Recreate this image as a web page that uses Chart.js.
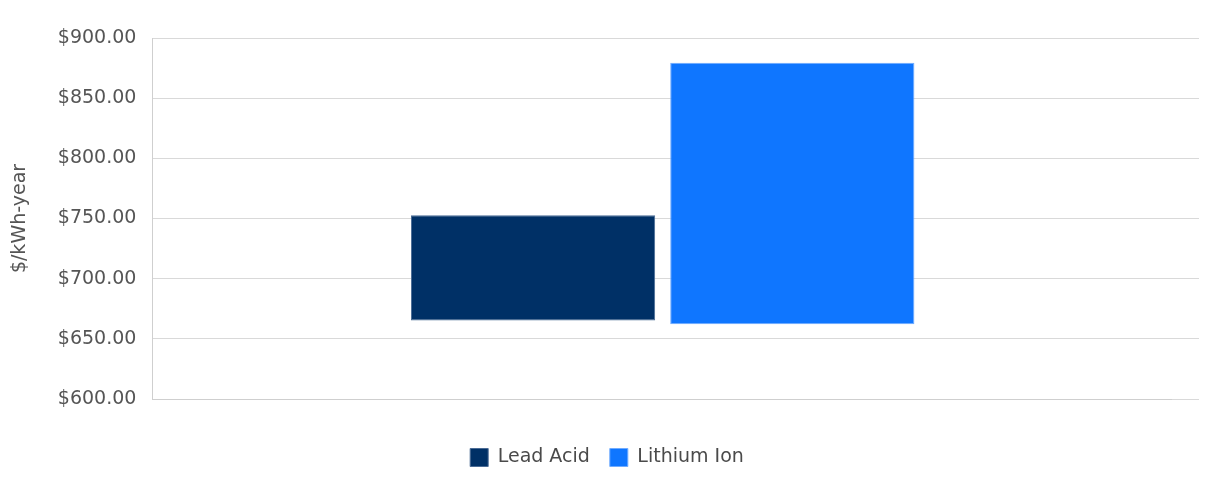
<!DOCTYPE html>
<html>
<head>
<meta charset="utf-8">
<script src="https://cdn.jsdelivr.net/npm/chart.js@4/dist/chart.umd.min.js"></script>
<style>
  html, body { margin: 0; padding: 0; background: #fff; }
  #wrap { width: 1207px; height: 500px; }
</style>
</head>
<body>
<div id="wrap"><canvas id="c" width="1207" height="500"></canvas></div>
<script>
const categories = [''];
const seriesNames = ['Lead Acid', 'Lithium Ion'];
const leadAcidRange = [[665.2, 752.7]];
const lithiumIonRange = [[662.2, 879.5]];
const yTickMin = 600;
const yTickMax = 900;
const yTickStep = 50;
const yAxisTitle = '$/kWh-year';

const FONT = 'DejaVu Sans';
const GRID_COLOR = '#d9d9d9';
const GRID_EXTEND = 26;
const LEGEND_SHIFT = 16;

// gridlines in the reference run a little past the plotting region on the right
const extendGrid = {
  id: 'extendGrid',
  afterLayout(chart) {
    if (chart.legend) {
      chart.legend.left += LEGEND_SHIFT;
      chart.legend.right += LEGEND_SHIFT;
    }
  },
  beforeDatasetsDraw(chart) {
    const { ctx, chartArea, scales } = chart;
    const y = scales.y;
    ctx.save();
    ctx.strokeStyle = GRID_COLOR;
    ctx.lineWidth = 1;
    y.ticks.forEach(t => {
      const py = Math.round(y.getPixelForValue(t.value) - 0.5) + 0.5;
      ctx.beginPath();
      ctx.moveTo(chartArea.right - 1, py);
      ctx.lineTo(chartArea.right + GRID_EXTEND, py);
      ctx.stroke();
    });
    ctx.restore();
  }
};

new Chart(document.getElementById('c'), {
  type: 'bar',
  data: {
    labels: categories,
    datasets: [
      {
        label: seriesNames[0],
        data: leadAcidRange,
        backgroundColor: '#003066',
        borderColor: '#4a6b95',
        borderWidth: 1,
        borderSkipped: false,
        categoryPercentage: 0.508,
        barPercentage: 0.942
      },
      {
        label: seriesNames[1],
        data: lithiumIonRange,
        backgroundColor: '#0f76ff',
        borderColor: '#6fabff',
        borderWidth: 1,
        borderSkipped: false,
        categoryPercentage: 0.508,
        barPercentage: 0.942
      }
    ]
  },
  options: {
    responsive: false,
    animation: false,
    devicePixelRatio: 1,
    layout: { padding: { left: 9, right: 8 + GRID_EXTEND, top: 38, bottom: 23 } },
    plugins: {
      legend: {
        position: 'bottom',
        labels: {
          boxWidth: 18,
          boxHeight: 18,
          padding: 20,
          color: '#4a4a4a',
          font: { family: FONT, size: 19 }
        }
      },
      tooltip: { enabled: false }
    },
    scales: {
      x: {
        grid: { display: false, drawTicks: false },
        border: { display: true, color: '#cfcfcf' },
        ticks: { display: false },
        afterFit: s => { s.height += 29; }
      },
      y: {
        min: yTickMin,
        max: yTickMax,
        ticks: {
          stepSize: yTickStep,
          padding: 16,
          color: '#555',
          font: { family: FONT, size: 19 },
          callback: v => '$' + Number(v).toFixed(2)
        },
        grid: { color: GRID_COLOR, lineWidth: 1, drawTicks: false },
        border: { display: true, color: '#cfcfcf' },
        title: {
          display: true,
          text: yAxisTitle,
          color: '#555',
          font: { family: FONT, size: 19 },
          padding: { top: 0, bottom: 10 }
        }
      }
    }
  },
  plugins: [extendGrid]
});
</script>
</body>
</html>
